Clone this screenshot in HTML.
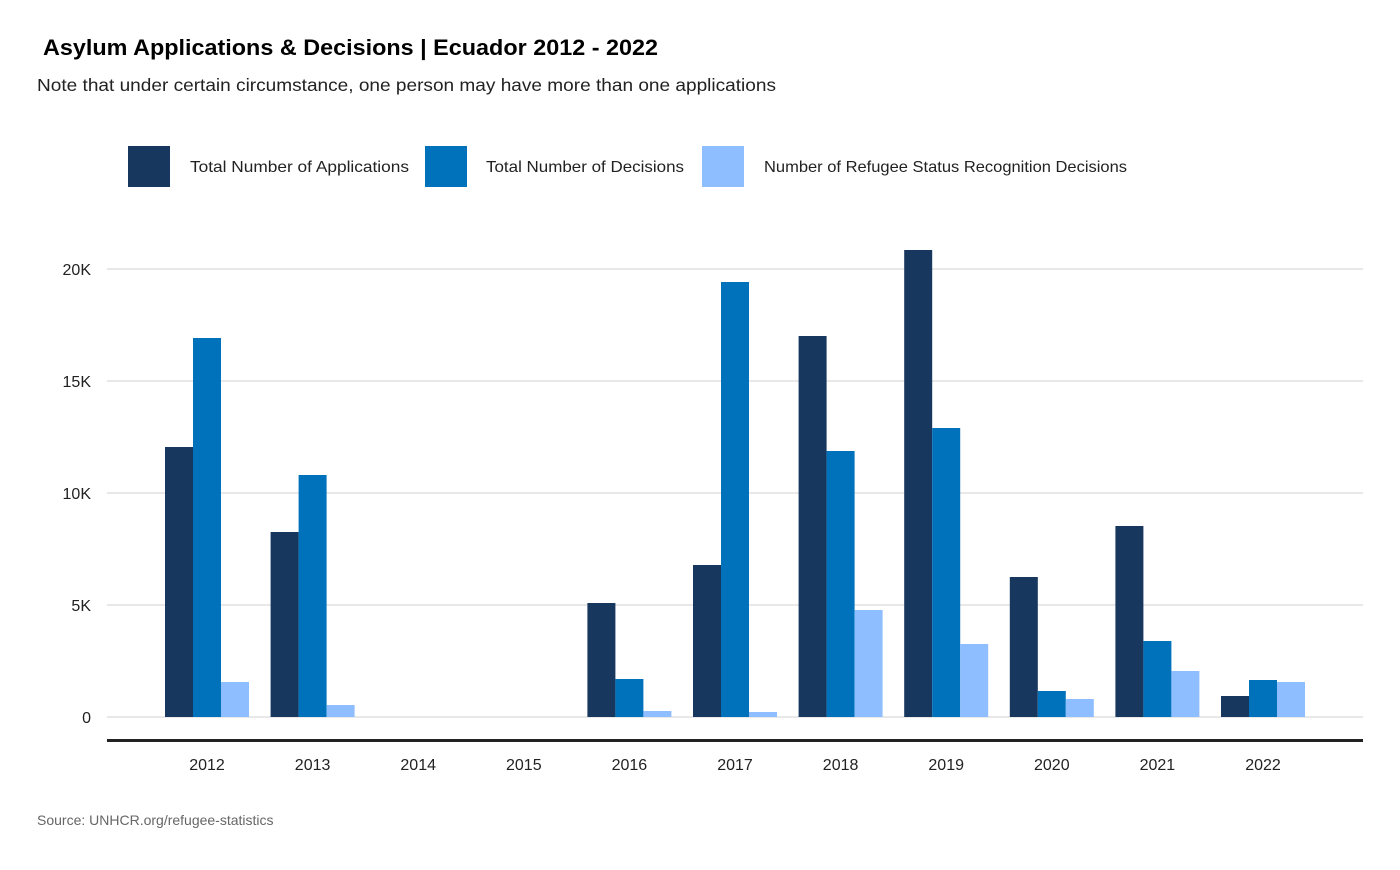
<!DOCTYPE html>
<html><head><style>
body{margin:0;background:#fff;}
svg text{font-family:"Liberation Sans",sans-serif;}
</style></head><body>
<svg width="1400" height="865" xmlns="http://www.w3.org/2000/svg">
<rect width="1400" height="865" fill="#fff"/>
<text x="43" y="55" font-size="22" font-weight="bold" fill="#000" textLength="615" lengthAdjust="spacingAndGlyphs">Asylum Applications &amp; Decisions | Ecuador 2012 - 2022</text>
<text x="37" y="91" font-size="17.5" fill="#222" textLength="739" lengthAdjust="spacingAndGlyphs">Note that under certain circumstance, one person may have more than one applications</text>
<rect x="128" y="146" width="42" height="41" fill="#18375F"/>
<text x="190" y="172" font-size="16" fill="#222" textLength="219" lengthAdjust="spacingAndGlyphs">Total Number of Applications</text>
<rect x="425" y="146" width="42" height="41" fill="#0072BC"/>
<text x="486" y="172" font-size="16" fill="#222" textLength="198" lengthAdjust="spacingAndGlyphs">Total Number of Decisions</text>
<rect x="702" y="146" width="42" height="41" fill="#8EBEFF"/>
<text x="764" y="172" font-size="16" fill="#222" textLength="363" lengthAdjust="spacingAndGlyphs">Number of Refugee Status Recognition Decisions</text>
<g stroke="#d0d0d0" stroke-width="1">
<line x1="107" x2="1363" y1="269" y2="269"/>
<line x1="107" x2="1363" y1="381" y2="381"/>
<line x1="107" x2="1363" y1="493" y2="493"/>
<line x1="107" x2="1363" y1="605" y2="605"/>
<line x1="107" x2="1363" y1="717" y2="717"/>
</g>
<g font-size="16" fill="#222" text-anchor="end">
<text x="91" y="275">20K</text><text x="91" y="387">15K</text><text x="91" y="499">10K</text><text x="91" y="611">5K</text><text x="91" y="723">0</text>
</g>
<g id="bars"></g>
<line x1="107" x2="1363" y1="740.5" y2="740.5" stroke="#222" stroke-width="3"/>
<g font-size="16" fill="#222" text-anchor="middle" id="xl"></g>
<text x="37" y="825" font-size="14" fill="#666">Source: UNHCR.org/refugee-statistics</text>
</svg>
<script>
var d={2012:[447,338,682],2013:[532,475,705],2016:[603,679,711],2017:[565,282,712],2018:[336,451,610],2019:[250,428,644],2020:[577,691,699],2021:[526,641,671],2022:[696,680,682]};
var cols=["#18375F","#0072BC","#8EBEFF"],ns="http://www.w3.org/2000/svg";
var b=document.getElementById("bars"),xl=document.getElementById("xl");
for(var i=0;i<11;i++){var y=2012+i,c=207+i*105.6;
var t=document.createElementNS(ns,"text");t.setAttribute("x",c);t.setAttribute("y",770);t.textContent=y;xl.appendChild(t);
if(d[y])for(var j=0;j<3;j++){var r=document.createElementNS(ns,"rect");r.setAttribute("x",c-42+j*28);r.setAttribute("width",28);r.setAttribute("y",d[y][j]);r.setAttribute("height",717-d[y][j]);r.setAttribute("fill",cols[j]);b.appendChild(r);}}
</script>
</body></html>
